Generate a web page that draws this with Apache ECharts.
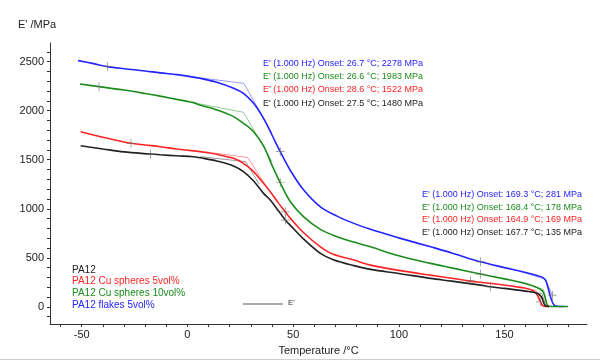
<!DOCTYPE html>
<html>
<head>
<meta charset="utf-8">
<script src="https://cdn.jsdelivr.net/npm/echarts@6/dist/echarts.min.js"></script>
<style>html,body{margin:0;padding:0;background:#fff}#c{width:600px;height:361px}</style>
</head>
<body>
<div id="c"></div>
<script>
// ---- data (temperature °C, E' MPa) ----
const pa12 = [[-50.5,1643],[-40,1610],[-30,1580],[-17.4,1558],[-12.9,1550],[-5,1540],[2.9,1531],[6,1520],[13.9,1487],[21.8,1436],[26.5,1378],[31.3,1283],[36,1157],[39.2,1090],[43,980],[46.3,885],[48.7,830],[55,690],[62.9,545],[69,480],[78.7,420],[86.6,382],[100,340],[115,290],[125,262],[138.6,221],[143.4,204],[150,188],[160,160],[165.6,137],[167.5,100],[168.5,40],[169.5,8],[171,4]];
const cu5 = [[-50.5,1786],[-40,1730],[-26.7,1667],[-20,1650],[-12.9,1633],[-5,1610],[2.9,1590],[6,1582],[13.9,1555],[21.8,1514],[26.5,1463],[31.3,1378],[36,1259],[39.2,1173],[43,1060],[46.3,969],[48.7,902],[55,755],[62.9,612],[69,535],[78.7,477],[86.6,425],[100,372],[115,323],[125,292],[133.9,262],[138.6,250],[150,222],[160,190],[163.5,165],[165.5,120],[166.8,60],[168,12],[169.5,4],[171,4]];
const cu10 = [[-50.8,2272],[-41.8,2245],[-30,2210],[-20,2175],[-12.9,2148],[-5,2115],[0,2095],[2.9,2082],[6,2058],[13.9,2007],[21.8,1939],[26.5,1871],[31.3,1786],[36,1640],[40,1445],[43.9,1265],[48.7,1071],[55,918],[62.9,790],[70.8,715],[78.7,660],[86.6,612],[100,520],[115,443],[125,397],[138.6,334],[150,285],[160,238],[165.6,195],[168,160],[169,110],[169.7,50],[170.5,12],[172,4],[180,4]];
const flakes = [[-51.7,2510],[-45,2482],[-37.7,2449],[-30,2428],[-20,2405],[-12.9,2385],[-5,2368],[0,2352],[6,2330],[13.9,2290],[21.8,2229],[26.5,2177],[31.3,2075],[36,1922],[40,1752],[43.9,1582],[48.7,1390],[55,1191],[62.9,1020],[70.8,925],[78.7,851],[86.6,790],[100,703],[115,612],[125,550],[138.6,459],[150,400],[160,350],[165,322],[168,300],[169.5,268],[170.5,200],[171.5,120],[172.5,55],[173.5,18],[175,6],[178,4]];

// onset tangent constructions
const tanPa12 = [[6,1531],[27.5,1480],[34,1250]];
const tanCu5 = [[6,1588],[28.6,1522],[37,1240]];
const tanCu10 = [[2,2085],[26.6,1983],[40,1480]];
const tanFlakes = [[0,2352],[26.7,2278],[40,1770]];
const tan2Pa12 = [[157,168],[167.7,135],[169.3,20]];
const tan2Cu5 = [[154,205],[164.9,169],[167,51]];
const tan2Cu10 = [[157,248],[168.4,178],[170,40]];
const tan2Flakes = [[158,358],[169.3,281],[172.6,119]];

// analysis markers
const marks = [[-37.7,2449],[43.9,1582],[138.6,459],[172.6,119],
               [-41.8,2245],[43.9,1265],[138.6,334],
               [-26.7,1667],[46.3,969],[133.9,265],[167,51],
               [-17.4,1558],[46.3,885],[143.4,204]];

const seriesNames = ['PA12','PA12 Cu spheres 5vol%','PA12 Cu spheres 10vol%','PA12 flakes 5vol%'];
const onsetTop = ["E' (1.000 Hz) Onset: 26.7 °C; 2278 MPa","E' (1.000 Hz) Onset: 26.6 °C; 1983 MPa","E' (1.000 Hz) Onset: 28.6 °C; 1522 MPa","E' (1.000 Hz) Onset: 27.5 °C; 1480 MPa"];
const onsetBottom = ["E' (1.000 Hz) Onset: 169.3 °C; 281 MPa","E' (1.000 Hz) Onset: 168.4 °C; 178 MPa","E' (1.000 Hz) Onset: 164.9 °C; 169 MPa","E' (1.000 Hz) Onset: 167.7 °C; 135 MPa"];

const xMajor = [-50,0,50,100,150];
const xTicks = [-60,-50,-40,-30,-20,-10,0,10,20,30,40,50,60,70,80,90,100,110,120,130,140,150,160,170,180];
const yMajor = [0,500,1000,1500,2000,2500];
const yTicks = [-100,0,100,200,300,400,500,600,700,800,900,1000,1100,1200,1300,1400,1500,1600,1700,1800,1900,2000,2100,2200,2300,2400,2500,2600];

const C = {blue:'#2424ff', green:'#1c8c1c', red:'#ff2424', black:'#222222'};
const L = {blue:'#9a9aff', green:'#94cc94', red:'#ff9a9a', black:'#999999'};
const FONT = 'Liberation Sans, Arial, sans-serif';

function curve(data, color){ return {type:'line', data, showSymbol:false, smooth:0.35, lineStyle:{color, width:1.6}, z:3, silent:true}; }
function tang(data, color){ return {type:'line', data, showSymbol:false, smooth:false, lineStyle:{color, width:1}, z:2, silent:true}; }

const chart = echarts.init(document.getElementById('c'), null, {renderer:'canvas'});
const axisCol = '#333';
const txt = [];
const colsTop = [C.blue, C.green, C.red, C.black];
onsetTop.forEach((t,i)=>txt.push({type:'text', left:263, top:59+i*13.2, style:{text:t, fill:colsTop[i], font:'9px '+FONT}}));
onsetBottom.forEach((t,i)=>txt.push({type:'text', left:422, top:190+i*12.6, style:{text:t, fill:colsTop[i], font:'9px '+FONT}}));
const legCols = [C.black, C.red, C.green, C.blue];
seriesNames.forEach((t,i)=>txt.push({type:'text', left:72, top:265+i*11.6, style:{text:t, fill:legCols[i], font:'10px '+FONT}}));
txt.push({type:'line', shape:{x1:243, y1:304, x2:283, y2:304}, style:{stroke:'#555', lineWidth:1.2}});
txt.push({type:'text', left:288, top:299, style:{text:"E'", fill:'#333', font:'8px '+FONT}});
txt.push({type:'text', left:18, top:19, style:{text:"E' /MPa", fill:'#222', font:'11px '+FONT}});
txt.push({type:'line', shape:{x1:0, y1:359.5, x2:600, y2:359.5}, style:{stroke:'#cfcfcf', lineWidth:1}});

const plain = v => String(v);

chart.setOption({
  animation:false,
  backgroundColor:'#fff',
  grid:{left:50, right:13, top:43, bottom:37},
  xAxis:{type:'value', min:-65, max:189, name:'Temperature /°C', nameLocation:'middle', nameGap:21,
     nameTextStyle:{color:'#222', fontSize:11, fontFamily:FONT},
     axisLine:{show:true, onZero:false, lineStyle:{color:axisCol, width:1}},
     axisTick:{show:true, customValues:xTicks, length:3, lineStyle:{color:axisCol}},
     axisLabel:{customValues:xMajor, formatter:plain, color:'#222', fontSize:11, fontFamily:FONT, margin:5},
     splitLine:{show:false}},
  yAxis:{type:'value', min:-175, max:2690,
     axisLine:{show:true, onZero:false, lineStyle:{color:axisCol, width:1}},
     axisTick:{show:true, customValues:yTicks, length:3, lineStyle:{color:axisCol}},
     axisLabel:{customValues:yMajor, formatter:plain, color:'#222', fontSize:11, fontFamily:FONT, margin:6},
     splitLine:{show:false}},
  series:[
    tang(tanFlakes, L.blue), tang(tanCu10, L.green), tang(tanCu5, L.red), tang(tanPa12, L.black),
    tang(tan2Flakes, L.blue), tang(tan2Cu10, L.green), tang(tan2Cu5, L.red), tang(tan2Pa12, L.black),
    curve(flakes, C.blue), curve(cu10, C.green), curve(cu5, C.red), curve(pa12, C.black),
    {type:'scatter', data:marks, symbol:'path://M4.6,0H5.4V4.6H10V5.4H5.4V10H4.6V5.4H0V4.6H4.6Z', symbolSize:9,
     itemStyle:{color:'#666'}, z:4, silent:true}
  ],
  graphic:txt
});
</script>
</body>
</html>
